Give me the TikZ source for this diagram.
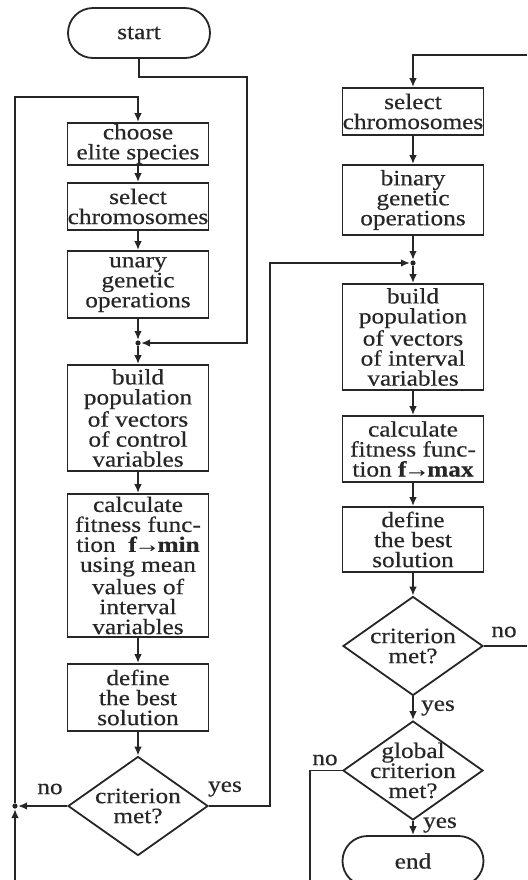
\documentclass[tikz,border=0pt]{standalone}
\usepackage{fontspec}
\setmainfont{Liberation Serif}[FakeStretch=1.15,FakeBold=0.4]
\usetikzlibrary{shapes.geometric,arrows.meta}

\definecolor{ink}{HTML}{262626}
\newcommand{\tendsto}{\kern-1.2pt→\kern-1.2pt}
\tikzset{
  box/.style={draw, rectangle, line width=0.9pt, inner sep=0pt, align=center, minimum width=70.5pt},
  term/.style={draw, rectangle, rounded corners=12.5pt, line width=0.9pt, minimum width=71pt, minimum height=25pt},
  decide/.style={draw, diamond, aspect=1.42, line width=0.9pt, inner sep=0pt, align=center, minimum width=70pt, minimum height=49.5pt},
  flow/.style={line width=0.9pt, -{Latex[length=4.5pt,width=3.8pt]}},
  joint/.style={circle, fill, inner sep=0pt, minimum size=2.6pt},
}

\begin{document}
\begin{tikzpicture}[x=0.5pt, y=-0.5pt, color=ink, font=\fontsize{11}{10}\selectfont]
    \useasboundingbox (0,0) rectangle (527,880);
    % left column
    \node (start) at (139,33) [term] {start};
    \node (elite) at (138,144) [box, minimum height=21pt] {choose\\elite species};
    \node (selL) at (138,206.5) [box, minimum height=23.5pt] {select\\chromosomes};
    \node (unary) at (138,284.5) [box, minimum height=33.5pt] {unary\\genetic\\operations};
    \node (jL) at (138,343) [joint] {};
    \node (buildL) at (138,418) [box, minimum height=53pt] {build\\population\\of vectors\\of control\\variables};
    \node (calcL) at (138,565.5) [box, minimum height=71.5pt] {calculate\\fitness func-\\tion\ \ \textbf{f}\tendsto\textbf{min}\\using mean\\values of\\interval\\variables};
    \node (defL) at (138,697.5) [box, minimum height=33.5pt] {define\\the best\\solution};
    \node (critL) at (138,806) [decide] {criterion\\met?};
    \node (jNo) at (15,806) [joint] {};
    % right column
    \node (selR) at (413,111.5) [box, minimum height=23.5pt] {select\\chromosomes};
    \node (binR) at (413,200) [box, minimum height=35pt] {binary\\genetic\\operations};
    \node (jR) at (413,263) [joint] {};
    \node (buildR) at (413,337) [box, minimum height=53pt] {build\\population\\of vectors\\of interval\\variables};
    \node (calcR) at (413,449) [box, minimum height=33pt] {calculate\\fitness func-\\tion \textbf{f}\tendsto\textbf{max}};
    \node (defR) at (413,539.5) [box, minimum height=32.5pt] {define\\the best\\solution};
    \node (critR) at (413,646) [decide] {criterion\\met?};
    \node (glob) at (413,770.5) [decide, inner ysep=-5pt] {global\\criterion\\met?};
    \node (end) at (413,861) [term, minimum width=70.5pt] {end};
    % bends and free ends
    \coordinate (sk) at (247,77);
    \coordinate (loopBot) at (15,880);
    \coordinate (eliteIn) at (138,97);
    \coordinate (yk) at (270,263);
    \coordinate (topIn) at (527,55);
    \coordinate (critOut) at (527,646);
    \coordinate (gk) at (310,880);
    % connectors
    \draw [flow] (start.south) |- (sk) |- (jL);
    \draw [flow] (elite) -- (selL);
    \draw [flow] (selL) -- (unary);
    \draw [flow] (unary) -- (jL);
    \draw [flow] (jL) -- (buildL);
    \draw [flow] (buildL) -- (calcL);
    \draw [flow] (calcL) -- (defL);
    \draw [flow] (defL) -- (critL);
    \draw [flow] (critL.west) -- (jNo);
    \draw [flow] (loopBot) -- (jNo);
    \draw [flow] (jNo) |- (eliteIn) -- (elite);
    \draw [flow] (critL.east) -| (yk) -- (jR);
    \draw [flow] (topIn) -| (selR);
    \draw [flow] (selR) -- (binR);
    \draw [flow] (binR) -- (jR);
    \draw [flow] (jR) -- (buildR);
    \draw [flow] (buildR) -- (calcR);
    \draw [flow] (calcR) -- (defR);
    \draw [flow] (defR) -- (critR);
    \draw [flow] (critR) -- (glob);
    \draw [flow] (glob) -- (end);
    \draw [line width=0.9pt] (critR.east) -- (critOut);
    \draw [line width=0.9pt] (glob.west) -| (gk);
    % labels
    \node (noL) at (50,789) {no};
    \node (yesL) at (225,789) {yes};
    \node (noR) at (504,632) {no};
    \node (yesR) at (438,708) {yes};
    \node (noG) at (325,760) {no};
    \node (yesG) at (440,825) {yes};
\end{tikzpicture}
\end{document}
